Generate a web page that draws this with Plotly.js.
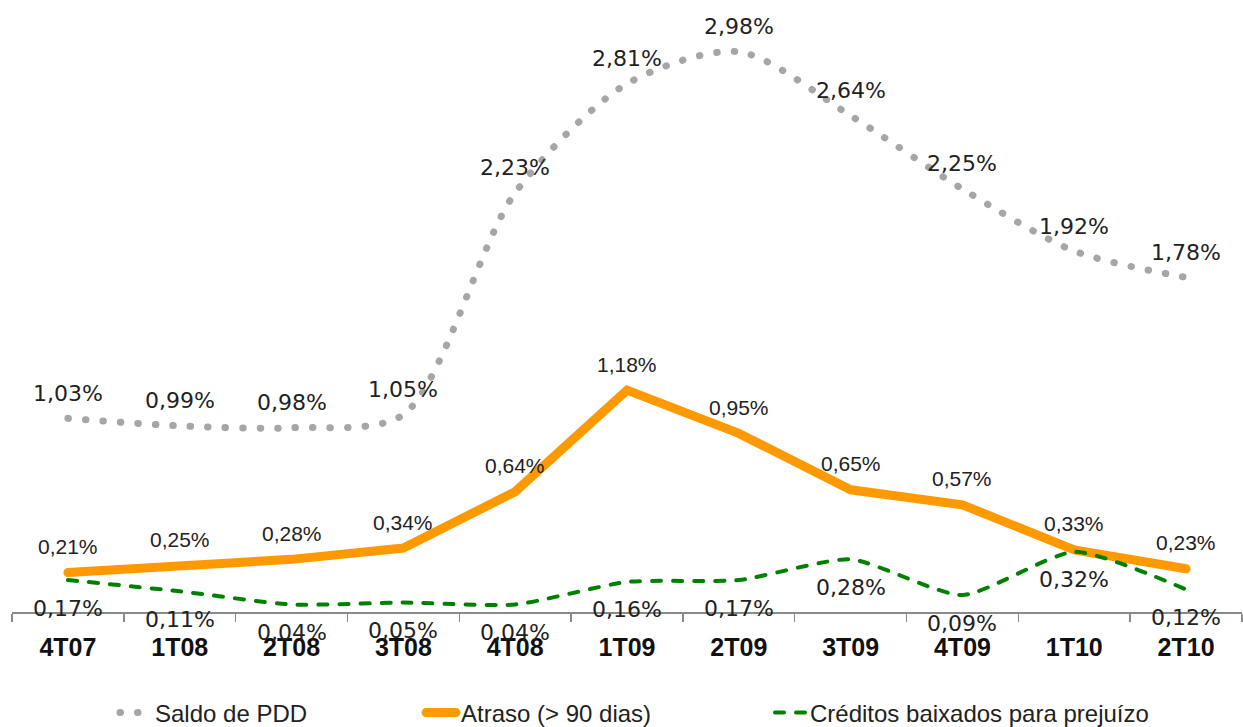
<!DOCTYPE html>
<html>
<head>
<meta charset="utf-8">
<script src="https://cdn.plot.ly/plotly-3.0.1.min.js"></script>
<style>
  html, body { margin: 0; padding: 0; background: #fff; }
  #chart { width: 1243px; height: 727px; }
  path.js-line, .legendlines path { stroke-linecap: round; }
</style>
</head>
<body>
<div id="chart"></div>
<script>
const categories = ["4T07","1T08","2T08","3T08","4T08","1T09","2T09","3T09","4T09","1T10","2T10"];
const saldoPDD = [1.03, 0.99, 0.98, 1.05, 2.23, 2.81, 2.98, 2.64, 2.25, 1.92, 1.78];
const atraso90 = [0.21, 0.25, 0.28, 0.34, 0.64, 1.18, 0.95, 0.65, 0.57, 0.33, 0.23];
const creditosBaixados = [0.17, 0.11, 0.04, 0.05, 0.04, 0.16, 0.17, 0.28, 0.09, 0.32, 0.12];
const seriesNames = ["Saldo de PDD", "Atraso (> 90 dias)", "Créditos baixados para prejuízo"];

function fmt(v) { return v.toFixed(2).replace(".", ",") + "%"; }

const traces = [
  {
    x: categories, y: saldoPDD, name: seriesNames[0], type: "scatter", mode: "lines",
    line: { color: "#a6a6a6", width: 7, dash: "0.5px,17px", shape: "spline", smoothing: 0.8 },
    legend: "legend", hoverinfo: "none"
  },
  {
    x: categories, y: atraso90, name: seriesNames[1], type: "scatter", mode: "lines",
    line: { color: "#ff9900", width: 9, shape: "linear" },
    legend: "legend2", hoverinfo: "none"
  },
  {
    x: categories, y: creditosBaixados, name: seriesNames[2], type: "scatter", mode: "lines",
    line: { color: "#008000", width: 4, dash: "9px,12px", shape: "spline", smoothing: 0.6 },
    legend: "legend3", hoverinfo: "none"
  }
];

const verdanaFont = { family: "DejaVu Sans, Verdana, sans-serif", size: 22, color: "#222" };
const arialFont = { family: "Liberation Sans, Arial, sans-serif", size: 21, color: "#222" };

const annotations = [];
categories.forEach((c, i) => {
  annotations.push({ x: c, y: saldoPDD[i], text: fmt(saldoPDD[i]), showarrow: false,
    xanchor: "center", yanchor: "middle", yshift: 25, font: verdanaFont });
  annotations.push({ x: c, y: atraso90[i], text: fmt(atraso90[i]), showarrow: false,
    xanchor: "center", yanchor: "middle", yshift: 26, font: arialFont });
  annotations.push({ x: c, y: creditosBaixados[i], text: fmt(creditosBaixados[i]), showarrow: false,
    xanchor: "center", yanchor: "middle", yshift: -28, font: verdanaFont });
});

const legendFont = { family: "Liberation Sans, Arial, sans-serif", size: 24, color: "#222" };
function legendAt(px) {
  return { xref: "container", yref: "container", x: px / 1243, y: 1 - 713 / 727,
    xanchor: "left", yanchor: "middle", orientation: "h", font: legendFont,
    bgcolor: "rgba(0,0,0,0)", borderwidth: 0 };
}

const layout = {
  width: 1243, height: 727,
  margin: { l: 12, r: 1, t: 10, b: 115 },
  paper_bgcolor: "#fff", plot_bgcolor: "#fff",
  showlegend: true,
  xaxis: {
    type: "category", range: [-0.5, 10.5], fixedrange: true,
    tickson: "boundaries", ticks: "outside", ticklen: 8, tickwidth: 1.5, tickcolor: "#8a8a8a",
    showline: true, linecolor: "#8a8a8a", linewidth: 1.5, showgrid: false,
    ticklabelstandoff: 12,
    tickfont: { family: "Liberation Sans, Arial, sans-serif", size: 25, color: "#111", weight: "bold" }
  },
  yaxis: { range: [0, 3.202], visible: false, showgrid: false, zeroline: false, fixedrange: true },
  legend: legendAt(115),
  legend2: legendAt(421),
  legend3: legendAt(770),
  annotations: annotations
};

Plotly.newPlot("chart", traces, layout, { displayModeBar: false, staticPlot: true });
</script>
</body>
</html>
